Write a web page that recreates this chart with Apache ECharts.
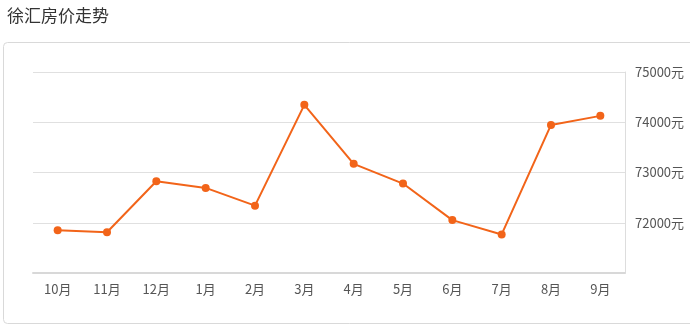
<!DOCTYPE html>
<html>
<head>
<meta charset="utf-8">
<script src="https://cdn.jsdelivr.net/npm/echarts@6/dist/echarts.min.js"></script>
<style>
html,body{margin:0;padding:0;background:#fff;}
#c{width:690px;height:328px;}
</style>
</head>
<body>
<div id="c"></div>
<script>
const title = '徐汇房价走势';
const categories = ['10月','11月','12月','1月','2月','3月','4月','5月','6月','7月','8月','9月'];
const prices = [71850, 71810, 72826, 72693, 72340, 74346, 73173, 72780, 72053, 71767, 73947, 74127];
const yTicks = [71000, 72000, 73000, 74000, 75000];

const chart = echarts.init(document.getElementById('c'), null, {renderer: 'canvas'});
chart.setOption({
  animation: false,
  title: {
    text: title, left: 2, top: 2,
    textStyle: {fontSize: 17, fontWeight: 'normal', color: '#333', fontFamily: '"Noto Sans CJK SC", sans-serif'}
  },
  graphic: [{
    type: 'rect', left: 3, top: 42, z: -1,
    shape: {width: 700, height: 281, r: 4},
    style: {fill: '#fff', stroke: '#d9d9d9', lineWidth: 1}
  }],
  grid: {left: 33, right: 65, top: 72, bottom: 55},
  xAxis: {
    type: 'category', data: categories, boundaryGap: true,
    axisLine: {lineStyle: {color: '#d8d8d8', width: 2}},
    axisTick: {alignWithLabel: true, length: 4, lineStyle: {color: '#ddd'}},
    axisLabel: {color: '#555', fontSize: 13, margin: 10, fontFamily: '"Noto Sans CJK SC", sans-serif'}
  },
  yAxis: {
    type: 'value', position: 'right',
    min: yTicks[0], max: yTicks[yTicks.length - 1], interval: 1000,
    axisLine: {show: true, lineStyle: {color: '#ddd'}},
    axisTick: {show: false},
    splitLine: {lineStyle: {color: '#e0e0e0'}},
    axisLabel: {
      showMinLabel: false, color: '#555', fontSize: 13, margin: 10,
      fontFamily: '"Noto Sans CJK SC", sans-serif',
      formatter: function (v) { return String(v) + '元'; }
    }
  },
  series: [{
    type: 'line', data: prices,
    symbol: 'circle', symbolSize: 8,
    lineStyle: {color: '#f26419', width: 2},
    itemStyle: {color: '#f26419'}
  }]
});
</script>
</body>
</html>
